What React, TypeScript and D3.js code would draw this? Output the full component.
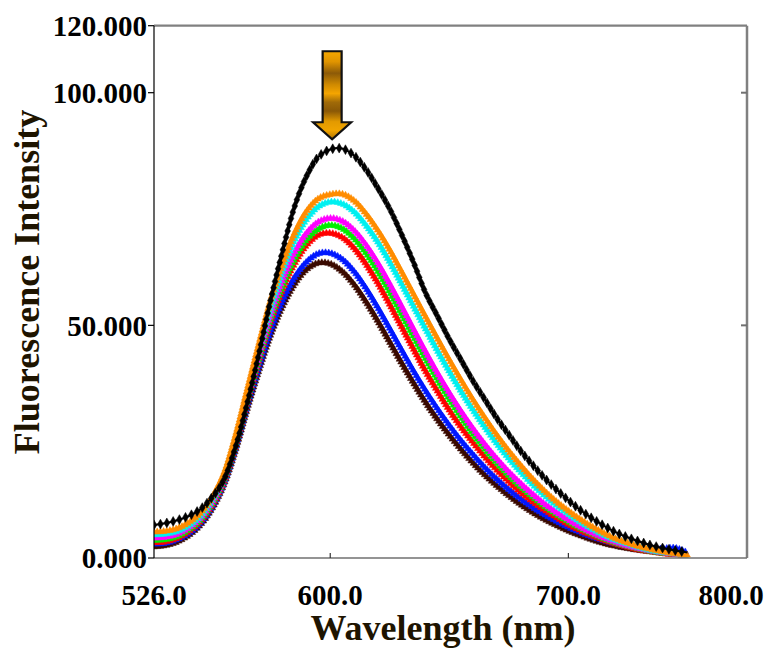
import React, { useEffect, useRef } from "react";
import * as d3 from "d3";

const WAVELENGTHS = [526, 530, 535, 540, 545, 550, 555, 560, 565, 570, 575, 580, 585, 590, 595, 600, 605, 610, 615, 620, 625, 630, 635, 640, 645, 650, 655, 660, 665, 670, 675, 680, 685, 690, 695, 700, 705, 710, 715, 720, 725, 730, 735, 740, 745, 750];

const BLACK = [7.1, 7.4, 8.0, 8.9, 10.3, 12.8, 16.5, 23.5, 33, 43.8, 55.5, 66, 75.5, 82, 86.2, 87.8, 88, 86.5, 83.5, 79.5, 75, 69.5, 63.5, 57, 52, 47, 42.5, 38, 34, 30, 26.5, 23, 20, 17.2, 14.7, 12.4, 10.3, 8.5, 6.9, 5.5, 4.4, 3.5, 2.7, 2.1, 1.6, 1.2];
const ORANGE = [5.6, 5.7, 6.2, 7.4, 9.4, 12.8, 17.8, 26, 36, 46, 55.5, 63.3, 69.8, 74.5, 77.2, 78.1, 78.2, 76.8, 74, 70.4, 66.2, 61.5, 56.7, 51.9, 47.2, 42.6, 38.2, 34, 30.1, 26.4, 23, 19.9, 17, 14.4, 12.1, 10.1, 8.3, 6.7, 5.3, 4.1, 3.2, 2.4, 1.8, 1.3, 0.9, 0.6];
const CYAN = [5.0, 5.1, 5.6, 6.8, 8.8, 12.3, 17.4, 25.4, 35.2, 45, 54, 61.8, 68.2, 72.8, 75.5, 76.5, 76.1, 74.4, 71.5, 67.9, 63.6, 58.9, 54.1, 49.3, 44.6, 40.1, 35.8, 31.8, 28.1, 24.6, 21.4, 18.5, 15.8, 13.4, 11.3, 9.4, 7.7, 6.2, 4.9, 3.8, 3.0, 2.2, 1.6, 1.2, 0.9, 0.6];
const MAGENTA = [4.3, 4.4, 5.0, 6.3, 8.4, 11.8, 16.9, 24.8, 34.4, 43.8, 52.6, 59.9, 65.7, 69.8, 72.2, 73, 72.4, 70.4, 67.3, 63.4, 58.9, 54.1, 49.2, 44.4, 39.8, 35.5, 31.5, 27.8, 24.4, 21.3, 18.5, 16, 13.7, 11.6, 9.8, 8.2, 6.7, 5.4, 4.3, 3.4, 2.6, 2.0, 1.5, 1.1, 0.8, 0.6];
const GREEN = [3.8, 3.9, 4.5, 5.9, 8.0, 11.5, 16.6, 24.4, 33.9, 43.1, 51.7, 58.7, 64.3, 68.4, 70.7, 71.5, 70.8, 68.7, 65.5, 61.6, 57.1, 52.3, 47.5, 42.8, 38.3, 34.1, 30.2, 26.6, 23.4, 20.4, 17.7, 15.3, 13.1, 11.1, 9.4, 7.8, 6.4, 5.2, 4.1, 3.2, 2.5, 1.9, 1.4, 1.0, 0.8, 0.5];
const RED = [3.3, 3.4, 4.1, 5.5, 7.7, 11.2, 16.3, 24.1, 33.6, 42.6, 51, 57.8, 63.3, 67.2, 69.4, 69.8, 68.9, 66.6, 63.2, 59.1, 54.5, 49.7, 44.9, 40.2, 35.9, 31.8, 28.1, 24.8, 21.7, 18.9, 16.4, 14.1, 12.1, 10.3, 8.7, 7.2, 5.9, 4.8, 3.8, 3.0, 2.3, 1.7, 1.3, 0.9, 0.7, 0.5];
const BLUE = [3.0, 3.1, 3.8, 5.1, 7.3, 10.8, 15.9, 23.5, 32.7, 41.2, 49, 55.4, 60.3, 63.6, 65.4, 65.5, 64.2, 61.6, 58, 53.8, 49.3, 44.7, 40.2, 36, 32.1, 28.5, 25.2, 22.2, 19.4, 16.9, 14.7, 12.7, 10.9, 9.3, 7.9, 6.6, 5.5, 4.5, 3.7, 3.0, 2.4, 2.0, 1.8, 2.0, 2.1, 1.1];
const BROWN = [2.4, 2.6, 3.3, 4.7, 6.9, 10.4, 15.5, 23, 32, 40.4, 48.1, 54.2, 58.9, 62, 63.4, 63.2, 61.6, 58.8, 55.1, 50.9, 46.4, 41.9, 37.6, 33.5, 29.8, 26.4, 23.3, 20.4, 17.8, 15.5, 13.4, 11.5, 9.8, 8.3, 7.0, 5.8, 4.8, 3.9, 3.1, 2.5, 2.0, 1.6, 1.3, 1.0, 0.8, 0.6];

const SERIES_NAMES = ["brown", "blue", "red", "green", "magenta", "cyan", "orange", "black"];
const SERIES_VALUES = [BROWN, BLUE, RED, GREEN, MAGENTA, CYAN, ORANGE, BLACK];
const SERIES_COLORS = ["#3a0a00", "#0018ff", "#ff0000", "#00ee00", "#ff00ff", "#00f0f0", "#ff8c00", "#000000"];

const X_TICKS = [526, 600, 700, 800];
const X_TICK_LABELS = ["526.0", "600.0", "700.0", "800.0"];
const Y_TICKS = [0, 50, 100, 120];
const Y_TICK_LABELS = ["0.000", "50.000", "100.000", "120.000"];

const X_TITLE = "Wavelength (nm)";
const Y_TITLE = "Fluorescence Intensity";

export default function App() {
  const ref = useRef<SVGSVGElement | null>(null);

  useEffect(() => {
    const svg = d3.select(ref.current);
    svg.selectAll("*").remove();

    const W = 770;
    const left = 154, right = 747, top = 25.7, bottom = 558;
    const font = "'Liberation Serif', 'Times New Roman', serif";
    const titleColor = "#1e1400";

    const x = d3.scaleLinear().domain([526, 775]).range([left, right]);
    const y = d3.scaleLinear().domain([0, 100, 120]).range([bottom, 92.7, top]);

    const defs = svg.append("defs");
    defs.append("clipPath").attr("id", "plotclip")
      .append("rect").attr("x", left).attr("y", top).attr("width", right - left).attr("height", bottom - top);

    const grad = defs.append("linearGradient").attr("id", "arrowgrad")
      .attr("x1", 0).attr("y1", 0).attr("x2", 0).attr("y2", 1);
    const stops: [number, string][] = [
      [0, "#f7a800"], [0.12, "#e09400"], [0.25, "#8c5a08"], [0.38, "#d08a00"], [0.48, "#f5a500"],
      [0.58, "#a06a08"], [0.68, "#8a5806"], [0.8, "#e39a00"], [0.9, "#f0a400"], [1, "#b07400"],
    ];
    stops.forEach(([o, c]) => grad.append("stop").attr("offset", o).attr("stop-color", c));

    svg.append("line").attr("x1", left).attr("x2", right).attr("y1", top).attr("y2", top)
      .attr("stroke", "#808080").attr("stroke-width", 2.2);
    svg.append("line").attr("x1", right).attr("x2", right).attr("y1", top).attr("y2", bottom)
      .attr("stroke", "#808080").attr("stroke-width", 2.5);

    const plot = svg.append("g").attr("clip-path", "url(#plotclip)");
    SERIES_VALUES.forEach((vals, si) => {
      const pts: [number, number][] = WAVELENGTHS.map((w, i) => [x(w), y(vals[i])]);
      const color = SERIES_COLORS[si];
      const isBlack = SERIES_NAMES[si] === "black";
      const line = d3.line().curve(d3.curveCatmullRom.alpha(0.5));
      const path = plot.append("path").attr("d", line(pts) as string)
        .attr("fill", "none").attr("stroke", color).attr("stroke-width", isBlack ? 2 : 3);
      const node = path.node() as SVGPathElement;
      const total = node.getTotalLength();
      const step = isBlack ? 6.5 : 3.2;
      const sym = d3.symbol().type(isBlack ? d3.symbolDiamond : d3.symbolTriangle).size(isBlack ? 28 : 20);
      const g = plot.append("g");
      for (let s = 0; s <= total; s += step) {
        const p = node.getPointAtLength(s);
        g.append("path").attr("d", sym() as string)
          .attr("transform", `translate(${p.x},${p.y})`)
          .attr("fill", color).attr("stroke", color).attr("stroke-width", 0.5);
      }
    });

    svg.append("line").attr("x1", left).attr("x2", right).attr("y1", bottom).attr("y2", bottom)
      .attr("stroke", "#707070").attr("stroke-width", 1.6);
    X_TICKS.forEach((t, i) => {
      const px = x(t);
      if (t > 526 && t < 775) {
        svg.append("line").attr("x1", px).attr("x2", px).attr("y1", bottom).attr("y2", bottom - 5)
          .attr("stroke", "#333").attr("stroke-width", 1.2);
      }
      const lx = Math.min(px, W - 39);
      svg.append("text").attr("x", lx).attr("y", 605).attr("text-anchor", "middle")
        .attr("font-family", font).attr("font-weight", "bold").attr("font-size", 29)
        .attr("fill", "#000").text(X_TICK_LABELS[i]);
    });

    svg.append("line").attr("x1", left).attr("x2", left).attr("y1", top).attr("y2", bottom)
      .attr("stroke", "#000").attr("stroke-width", 1.2);
    Y_TICKS.forEach((t, i) => {
      const py = y(t);
      svg.append("line").attr("x1", left - 6).attr("x2", left).attr("y1", py).attr("y2", py)
        .attr("stroke", "#000").attr("stroke-width", 1.2);
      if (t > 0 && t < 120) {
        svg.append("line").attr("x1", right - 6).attr("x2", right).attr("y1", py).attr("y2", py)
          .attr("stroke", "#707070").attr("stroke-width", 2);
      }
      svg.append("text").attr("x", 147).attr("y", py).attr("dy", "0.35em").attr("text-anchor", "end")
        .attr("font-family", font).attr("font-weight", "bold").attr("font-size", 29)
        .attr("fill", "#000").text(Y_TICK_LABELS[i]);
    });

    svg.append("text").attr("x", 443).attr("y", 640).attr("text-anchor", "middle")
      .attr("font-family", font).attr("font-weight", "bold").attr("font-size", 36)
      .attr("fill", titleColor).text(X_TITLE);
    svg.append("text").attr("transform", "translate(39,282) rotate(-90)").attr("text-anchor", "middle")
      .attr("font-family", font).attr("font-weight", "bold").attr("font-size", 36)
      .attr("fill", titleColor).text(Y_TITLE);

    const ax = x(600.8), tipY = y(90);
    const arrowPts: [number, number][] = [
      [ax - 9.5, tipY - 88], [ax + 9.5, tipY - 88], [ax + 9.5, tipY - 17], [ax + 19, tipY - 17],
      [ax, tipY], [ax - 19, tipY - 17], [ax - 9.5, tipY - 17],
    ];
    svg.append("path").attr("d", "M" + arrowPts.map(p => p.join(",")).join("L") + "Z")
      .attr("fill", "url(#arrowgrad)").attr("stroke", "#111").attr("stroke-width", 2.2)
      .attr("stroke-linejoin", "miter");
  }, []);

  return (
    <svg ref={ref} width={770} height={650}
      style={{ display: "block", position: "absolute", left: 0, top: 0, background: "#fff" }} />
  );
}
